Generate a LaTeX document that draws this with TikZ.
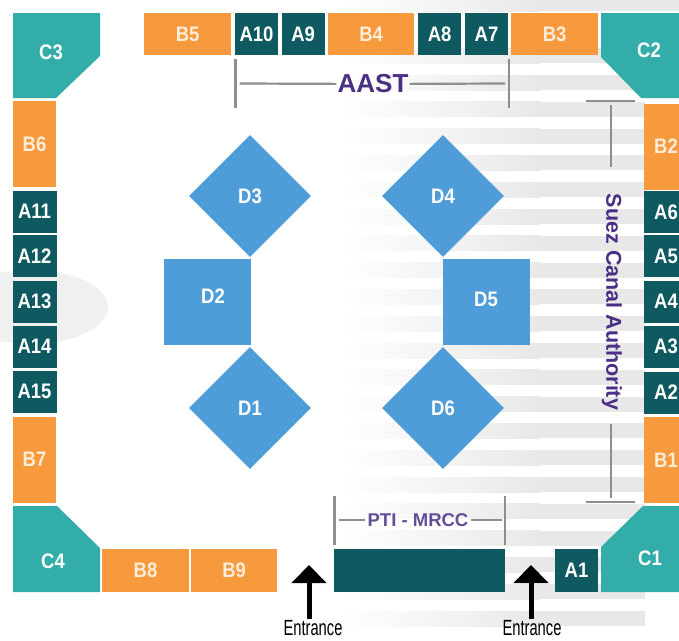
\documentclass[tikz,border=0pt]{standalone}
\usepackage{fontspec}
\setmainfont{Liberation Sans}
\newfontfamily\entfont[FakeStretch=0.67]{Liberation Sans}
\newfontfamily\boothfont[FakeStretch=0.88]{Liberation Sans}
\usetikzlibrary{shapes.geometric,arrows.meta}
\definecolor{boothorange}{HTML}{F79A3E}
\definecolor{boothdark}{HTML}{0F5A60}
\definecolor{boothteal}{HTML}{33ADA9}
\definecolor{boothblue}{HTML}{4E9CD8}
\definecolor{linegray}{HTML}{8E8E92}
\definecolor{labelpurple}{HTML}{4A2F85}
\tikzset{
  booth/.style={inner sep=0pt,font=\boothfont\bfseries\fontsize{21}{21}\selectfont,text=white},
  ablock/.style={booth,fill=boothdark,minimum width=43pt,minimum height=42pt},
  aside/.style={booth,fill=boothdark,minimum width=44pt,minimum height=42pt},
  bwide/.style={booth,fill=boothorange,text=white!85!orange,minimum width=86.5pt,minimum height=42.5pt},
  btall/.style={booth,fill=boothorange,text=white!85!orange,minimum width=43.5pt,minimum height=86pt},
  dmond/.style={booth,fill=boothblue,shape=diamond,aspect=1,minimum width=122pt,minimum height=122pt},
  dsquare/.style={booth,fill=boothblue,minimum width=87pt,minimum height=86pt},
  corner/.style={fill=boothteal},
  guide/.style={draw=linegray,line width=2.2pt},
  stripe/.style={left color=white,right color=black!9},
  entarrow/.style={line width=5pt,-{Triangle[width=34pt,length=18pt]}},
  entlabel/.style={font=\entfont\fontsize{22}{22}\selectfont,inner sep=1pt},
}
\begin{document}
\begin{tikzpicture}[x=1pt,y=-1pt]
   \useasboundingbox (0,0) rectangle (679,640);
   \clip (0,0) rectangle (679,640);
   \fill[white] (0,0) rectangle (679,640);

   % background
   \fill[black!6] (30,307) ellipse [x radius=78,y radius=37];
   \shade[stripe] (340,0) rectangle (540,11);
   \fill[black!9] (540,0) rectangle (679,11);
   \foreach \k in {-1,...,20} {
      \pgfmathsetmacro{\y}{75+26.8*\k}
      \shade[stripe] (340,\y) rectangle (540,\y+15);
      \fill[black!9] (540,\y) rectangle (645,\y+15);
   }

   % corners
   \fill[corner] (13,13) -- (100,13) -- (100,56) -- (56,98) -- (13,98) -- cycle;
   \fill[corner] (601,13) -- (679,13) -- (679,98) -- (641,98) -- (601,57) -- cycle;
   \fill[corner] (13,506) -- (57,506) -- (100,548) -- (100,592) -- (13,592) -- cycle;
   \fill[corner] (643,506) -- (679,506) -- (679,592) -- (601,592) -- (601,547) -- cycle;
   \node[booth] (c3) at (51,52) {C3};
   \node[booth] (c2) at (649,50) {C2};
   \node[booth] (c4) at (53,561) {C4};
   \node[booth] (c1) at (650,558) {C1};

   % top row
   \node[bwide] (b5) at (187.7,34) {B5};
   \node[ablock] (a10) at (256.5,34) {A10};
   \node[ablock] (a9) at (303.2,34) {A9};
   \node[bwide] (b4) at (371.2,34) {B4};
   \node[ablock] (a8) at (439.7,34) {A8};
   \node[ablock] (a7) at (486.5,34) {A7};
   \node[bwide] (b3) at (554.7,34) {B3};

   % left column
   \node[btall] (b6) at (34.5,144) {B6};
   \node[aside] (a11) at (34.5,211.5) {A11};
   \node[aside] (a12) at (34.5,256) {A12};
   \node[aside] (a13) at (34.5,301.5) {A13};
   \node[aside] (a14) at (34.5,346.5) {A14};
   \node[aside] (a15) at (34.5,391.5) {A15};
   \node[btall] (b7) at (34.5,459.5) {B7};

   % right column
   \node[btall] (b2) at (666,146.5) {B2};
   \node[aside] (a6) at (666,212) {A6};
   \node[aside] (a5) at (666,256) {A5};
   \node[aside] (a4) at (666,301.5) {A4};
   \node[aside] (a3) at (666,346.5) {A3};
   \node[aside] (a2) at (666,392.5) {A2};
   \node[btall] (b1) at (666,460) {B1};

   % bottom row
   \node[bwide] (b8) at (145.5,570.5) {\raisebox{-3pt}{B8}};
   \node[bwide] (b9) at (234.2,570.5) {\raisebox{-3pt}{B9}};
   \node[ablock,minimum width=171pt,minimum height=43pt] (pti) at (419.5,570.5) {};
   \node[ablock,minimum height=43pt] (a1) at (576.5,570.5) {A1};

   % centre stands
   \node[dmond] (d3) at (250,196) {D3};
   \node[dmond] (d4) at (443,196) {D4};
   \node[dmond] (d1) at (250,408) {D1};
   \node[dmond] (d6) at (443,408) {D6};
   \node[dsquare,label={[booth,xshift=5.5pt,yshift=6pt]center:D2}] (d2) at (207.5,302) {};
   \node[dsquare,label={[booth,yshift=3pt]center:D5}] (d5) at (486,302) {};

   % AAST
   \node[font=\bfseries\fontsize{26}{26}\selectfont,text=labelpurple,inner sep=1pt] (aast) at (373,84) {AAST};
   \coordinate (aastl) at (235.5,83.5);
   \coordinate (aastr) at (509,83.5);
   \draw[guide] (235.5,59) -- (235.5,108);
   \draw[guide] (509,59) -- (509,108);
   \draw[guide] ([xshift=4pt]aastl) -- (aast);
   \draw[guide] (aast) -- ([xshift=-4pt]aastr);

   % Suez
   \node[font=\bfseries\fontsize{21.5}{21.5}\selectfont,text=labelpurple,rotate=-90,inner sep=0pt] (suez) at (612,302) {Suez Canal Authority};
   \coordinate (suezt) at (611,101);
   \coordinate (suezb) at (611,502);
   \draw[guide] (586,101) -- (635,101);
   \draw[guide] (586,502) -- (635,502);
   \draw[guide] ([yshift=-4pt]suezt) -- (611,167);
   \draw[guide] (611,424) -- ([yshift=4pt]suezb);

   % PTI - MRCC
   \node[font=\bfseries\fontsize{18.5}{18.5}\selectfont,text=labelpurple!85!white,inner sep=2pt] (mrcc) at (418,520) {PTI - MRCC};
   \coordinate (mrccl) at (334.5,520);
   \coordinate (mrccr) at (505,520);
   \draw[guide] (334.5,496) -- (334.5,545);
   \draw[guide] (505,496) -- (505,545);
   \draw[guide] ([xshift=4pt]mrccl) -- (mrcc);
   \draw[guide] (mrcc) -- ([xshift=-3pt]mrccr);

   % entrances
   \node[entlabel] (ent1) at (313,628) {Entrance};
   \node[entlabel] (ent2) at (532,628) {Entrance};
   \coordinate (tip1) at (309,565);
   \coordinate (tip2) at (531,565);
   \draw[entarrow] (ent1.north -| tip1) -- (tip1);
   \draw[entarrow] (ent2.north -| tip2) -- (tip2);
\end{tikzpicture}
\end{document}
